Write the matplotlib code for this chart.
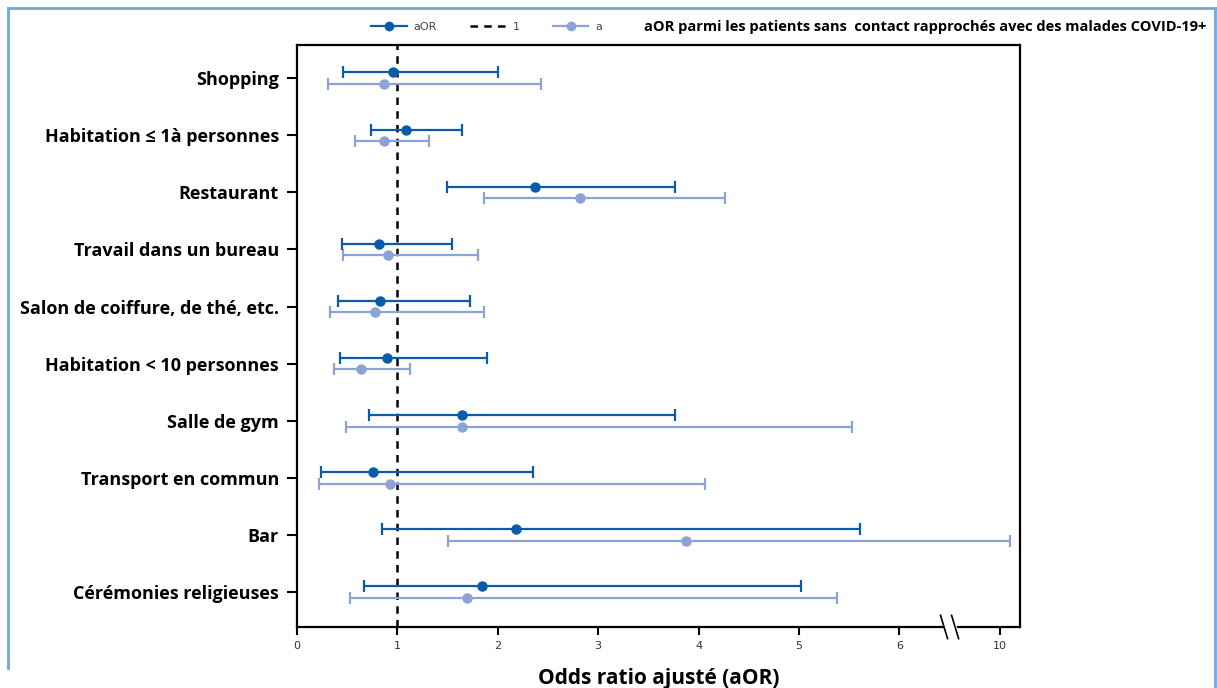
import numpy as np
import matplotlib
matplotlib.use("Agg")
import matplotlib.pyplot as plt
from matplotlib.lines import Line2D

categories = ["Shopping", "Habitation \u2264 1à personnes", "Restaurant",
              "Travail dans un bureau", "Salon de coiffure, de thé, etc.",
              "Habitation < 10 personnes", "Salle de gym", "Transport en commun",
              "Bar", "Cérémonies religieuses"]

aor = [0.96, 1.09, 2.37, 0.82, 0.83, 0.90, 1.64, 0.76, 2.18, 1.84]
aor_low = [0.46, 0.74, 1.49, 0.45, 0.41, 0.43, 0.72, 0.24, 0.85, 0.67]
aor_high = [2.00, 1.64, 3.77, 1.54, 1.72, 1.89, 3.77, 2.35, 5.61, 5.02]

aor2 = [0.87, 0.87, 2.82, 0.91, 0.78, 0.64, 1.64, 0.93, 3.87, 1.69]
aor2_low = [0.31, 0.58, 1.86, 0.46, 0.33, 0.37, 0.49, 0.22, 1.50, 0.53]
aor2_high = [2.43, 1.32, 4.26, 1.80, 1.86, 1.13, 5.53, 4.06, 10.1, 5.38]

tick_values = [0, 1, 2, 3, 4, 5, 6, 10]
break_at = 6.5
break_shift = 3.0  # 10 is drawn where 7 would be


def xmap(v):
    v = np.asarray(v, dtype=float)
    return np.where(v > break_at, v - break_shift, v)


dark = "#0A5CAB"
light = "#8CA3D6"

fig = plt.figure(figsize=(12.17, 6.88), dpi=100)
ax = fig.add_axes([0.244, 0.0887, 0.594, 0.8459])

n = len(categories)
ypos = np.arange(n)[::-1]
off = 0.1

x1 = xmap(aor)
ax.errorbar(x1, ypos + off,
            xerr=[x1 - xmap(aor_low), xmap(aor_high) - x1],
            fmt="o", color=dark, ms=6.5, lw=1.6, capsize=4.5, capthick=1.6, zorder=4)
x2 = xmap(aor2)
ax.errorbar(x2, ypos - off,
            xerr=[x2 - xmap(aor2_low), xmap(aor2_high) - x2],
            fmt="o", color=light, ms=6.5, lw=1.6, capsize=4.5, capthick=1.6, zorder=3)

ax.axvline(1, color="black", ls=(0, (3, 2.5)), lw=1.8, zorder=2)

ax.set_xlim(0, 7.2)
ax.set_ylim(-0.61, n - 1 + 0.58)
ax.set_xticks(xmap(tick_values))
ax.set_xticklabels([str(t) for t in tick_values], fontsize=8, color="#333333")
ax.set_yticks(ypos)
ax.set_yticklabels(categories, fontsize=13, fontweight="bold", family="Open Sans")
ax.tick_params(axis="x", length=6, width=1.5, pad=4)
ax.tick_params(axis="y", length=7, width=1.5, pad=6)
for s in ax.spines.values():
    s.set_linewidth(1.6)

ax.set_xlabel("Odds ratio ajusté (aOR)", fontsize=15, fontweight="bold",
              family="Open Sans", labelpad=12)

# axis break marks
bx = 6.5
ax.plot([bx - 0.03, bx + 0.03], [0, 0], transform=ax.get_xaxis_transform(),
        color="white", lw=5, clip_on=False, zorder=5)
for dx in (-0.055, 0.055):
    ax.plot([bx + dx - 0.035, bx + dx + 0.035], [0.02, -0.02],
            transform=ax.get_xaxis_transform(), color="black", lw=1.2,
            clip_on=False, zorder=6)

# legend
handles = [Line2D([], [], color=dark, marker="o", ms=6, lw=1.6),
           Line2D([], [], color="black", ls=(0, (3, 2.5)), lw=1.8),
           Line2D([], [], color=light, marker="o", ms=6, lw=1.6)]
fig.legend(handles, ["aOR", "1", "a"], ncol=3, loc="center left",
           bbox_to_anchor=(0.297, 0.961), frameon=False, fontsize=8,
           handlelength=3.2, columnspacing=3.0, handletextpad=0.6,
           labelcolor="#444444")
fig.text(0.529, 0.961, "aOR parmi les patients sans  contact rapprochés avec des malades COVID-19+",
         fontsize=10.5, fontweight="bold", family="Open Sans", va="center", ha="left",
         bbox=dict(facecolor="white", edgecolor="none", pad=0.5))

# outer frame
fc = "#6FA8DC"
fig.add_artist(Line2D([8 / 1217, 8 / 1217], [1 - 8 / 688, 1 - 668 / 688],
                      transform=fig.transFigure, color=fc, lw=2))
fig.add_artist(Line2D([8 / 1217, 1215 / 1217], [1 - 8 / 688, 1 - 8 / 688],
                      transform=fig.transFigure, color=fc, lw=2))
fig.add_artist(Line2D([1215 / 1217, 1215 / 1217], [1 - 8 / 688, 0],
                      transform=fig.transFigure, color=fc, lw=2))

fig.savefig("out.png", dpi=100)
